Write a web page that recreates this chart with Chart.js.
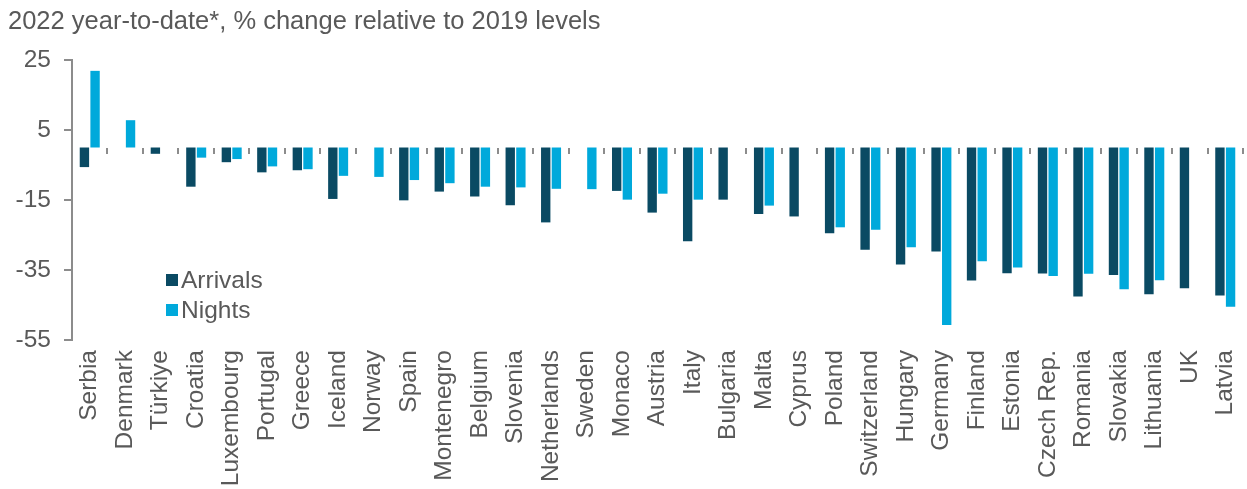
<!DOCTYPE html>
<html>
<head>
<meta charset="utf-8">
<script src="https://cdn.jsdelivr.net/npm/chart.js@4.4.1/dist/chart.umd.min.js"></script>
<style>
  html, body { margin: 0; padding: 0; background: #ffffff; }
  #wrap { position: relative; width: 1247px; height: 489px; }
</style>
</head>
<body>
<div id="wrap"><canvas id="tourismChart"></canvas></div>
<script>
// Tourism 2022 YTD vs 2019 – arrivals and nights by country

const countries = ['Serbia', 'Denmark', 'Türkiye', 'Croatia', 'Luxembourg', 'Portugal', 'Greece', 'Iceland', 'Norway', 'Spain',
    'Montenegro', 'Belgium', 'Slovenia', 'Netherlands', 'Sweden', 'Monaco', 'Austria', 'Italy', 'Bulgaria', 'Malta',
    'Cyprus', 'Poland', 'Switzerland', 'Hungary', 'Germany', 'Finland', 'Estonia', 'Czech Rep.', 'Romania', 'Slovakia',
    'Lithuania', 'UK', 'Latvia'];

const arrivals = [-5.6, null, -1.8, -11.2, -4.2, -7.1, -6.5, -14.7, null, -15.1,
    -12.6, -14.0, -16.5, -21.4, null, -12.4, -18.6, -26.8, -14.9, -19.0,
    -19.7, -24.5, -29.2, -33.4, -29.7, -38.0, -35.9, -36.0, -42.6, -36.4,
    -41.9, -40.2, -42.3];

const nights = [21.9, 7.8, null, -2.9, -3.3, -5.4, -6.2, -8.1, -8.4, -9.3,
    -10.2, -11.2, -11.4, -11.8, -11.9, -14.9, -13.2, -14.9, null, -16.6,
    null, -22.8, -23.5, -28.5, -50.7, -32.5, -34.3, -36.7, -36.1, -40.5,
    -37.9, null, -45.5];

const yTicks = [25, 5, -15, -35, -55];

const darkBlue = '#0A4A63';
const lightBlue = '#00A9DB';
const textGrey = '#595959';
const axisGrey = '#8C8C8C';
const fontFamily = '"Liberation Sans", Arial, sans-serif';

// legend drawn inside the plot, like the original
const innerLegend = {
    id: 'innerLegend',
    afterDraw(chart) {
        const c = chart.ctx;
        const x = chart.chartArea.left + 94;
        const rows = [280, 310];
        c.save();
        c.font = '24.5px ' + fontFamily;
        c.textBaseline = 'middle';
        chart.data.datasets.forEach(function (ds, i) {
            c.fillStyle = ds.backgroundColor;
            c.fillRect(x, rows[i] - 6, 12, 12);
            c.fillStyle = textGrey;
            c.fillText(ds.label, x + 15, rows[i] + 1);
        });
        c.restore();
    }
};

const ctx = document.getElementById('tourismChart').getContext('2d');

new Chart(ctx, {
    type: 'bar',
    data: {
        labels: countries,
        datasets: [
            {
                label: 'Arrivals',
                data: arrivals,
                backgroundColor: darkBlue,
                xAxisID: 'x',
                barPercentage: 0.88,
                categoryPercentage: 0.6
            },
            {
                label: 'Nights',
                data: nights,
                backgroundColor: lightBlue,
                xAxisID: 'x',
                barPercentage: 0.88,
                categoryPercentage: 0.6
            }
        ]
    },
    plugins: [innerLegend],
    options: {
        responsive: true,
        maintainAspectRatio: false,
        animation: false,
        layout: { padding: { left: 8, right: 4, top: 0, bottom: 0 } },
        plugins: {
            legend: { display: false },
            tooltip: { enabled: false },
            title: {
                display: true,
                text: '2022 year-to-date*, % change relative to 2019 levels',
                align: 'start',
                color: textGrey,
                font: { family: fontFamily, size: 25.5, weight: 'normal' },
                padding: { top: 7, bottom: 22.4 }
            }
        },
        scales: {
            x: {
                type: 'category',
                position: 'bottom',
                offset: true,
                grid: { display: false },
                border: { display: false },
                ticks: {
                    color: textGrey,
                    autoSkip: false,
                    maxRotation: 90,
                    minRotation: 90,
                    padding: 2,
                    font: { family: fontFamily, size: 24.5 }
                },
                afterFit: function (scale) {
                    scale.height = 149;
                    scale.paddingLeft = 0;
                    scale.paddingRight = 0;
                }
            },
            x2: {
                type: 'category',
                position: { y: 0 },
                offset: true,
                grid: {
                    display: true,
                    offset: true,
                    drawOnChartArea: false,
                    drawTicks: true,
                    tickLength: 6,
                    color: axisGrey,
                    lineWidth: 2
                },
                border: { display: false },
                ticks: { display: false }
            },
            y: {
                min: -55,
                max: 25,
                afterBuildTicks: function (scale) {
                    scale.ticks = yTicks.map(function (v) { return { value: v }; });
                },
                grid: {
                    drawTicks: true,
                    tickLength: 8,
                    tickColor: axisGrey,
                    lineWidth: 2,
                    color: function (c) { return c.tick && c.tick.value === 0 ? axisGrey : 'rgba(0,0,0,0)'; }
                },
                border: { display: true, color: axisGrey, width: 2 },
                ticks: {
                    color: textGrey,
                    padding: 13,
                    font: { family: fontFamily, size: 24.5 }
                },
                afterFit: function (scale) { scale.width = 64; }
            }
        }
    }
});
</script>
</body>
</html>
